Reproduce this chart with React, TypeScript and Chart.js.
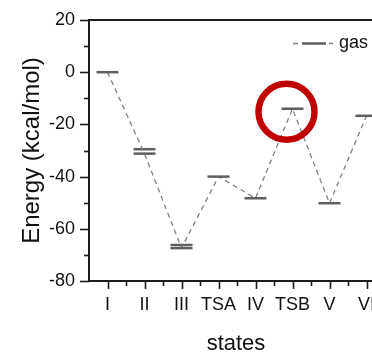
import React, { useEffect, useRef } from 'react';
import { Chart, registerables } from 'chart.js';

Chart.register(...registerables);

// ---- data ----
const STATES = ['I', 'II', 'III', 'TSA', 'IV', 'TSB', 'V', 'VI'];
const GAS = [0, -31.2, -67.4, -40, -48.3, -14, -50.2, -16.7];
const GAS_UPPER: (number | null)[] = [null, -29.5, -66.2, null, null, null, null, null];
const Y_TICK_VALUES = [20, 10, 0, -10, -20, -30, -40, -50, -60, -70, -80];
const SERIES_LABEL = 'gas';
const HIGHLIGHT_STATE = 'TSB';

const FONT = '"Liberation Sans", Arial, Helvetica, sans-serif';
const AXIS_COLOR = '#1c1c1c';
const TEXT_COLOR = '#111111';
const LEVEL_COLOR = '#5e5e5e';
const DASH_COLOR = '#808080';
const RING_COLOR = '#c00000';

const CANVAS_W = 400;
const CANVAS_H = 353;
const PLOT_LEFT = 89;
const PLOT_RIGHT = 383;
const UNIT_PX = 37;

const zeroPadding = (s: any) => {
  s.paddingLeft = 0;
  s.paddingRight = 0;
  s.paddingTop = 0;
  s.paddingBottom = 0;
};

const decorPlugin = {
  id: 'decor',
  afterDraw(chart: any) {
    const { ctx, chartArea, scales } = chart;
    const xs = scales.x;
    const ys = scales.y;
    ctx.save();
    ctx.strokeStyle = AXIS_COLOR;
    // top frame
    ctx.lineWidth = 2;
    ctx.beginPath();
    ctx.moveTo(chartArea.left - 1, chartArea.top);
    ctx.lineTo(chartArea.right, chartArea.top);
    ctx.stroke();
    // y ticks (major/minor)
    ctx.lineWidth = 1.6;
    for (const t of ys.ticks) {
      const p = Math.round(ys.getPixelForValue(t.value)) + 0.5;
      const len = t.value % 20 === 0 ? 9 : 5;
      ctx.beginPath();
      ctx.moveTo(chartArea.left - len, p);
      ctx.lineTo(chartArea.left, p);
      ctx.stroke();
    }
    // x ticks (major/minor)
    for (const t of xs.ticks) {
      const p = Math.round(xs.getPixelForValue(t.value)) + 0.5;
      const len = Number.isInteger(t.value) ? 8 : 5;
      ctx.beginPath();
      ctx.moveTo(p, chartArea.bottom);
      ctx.lineTo(p, chartArea.bottom + len);
      ctx.stroke();
    }
    // highlight ring around TSB
    const hi = STATES.indexOf(HIGHLIGHT_STATE);
    const cx = xs.getPixelForValue(hi + 1) - 6;
    const cy = ys.getPixelForValue(GAS[hi]) + 3;
    ctx.strokeStyle = RING_COLOR;
    ctx.lineWidth = 6.5;
    ctx.beginPath();
    ctx.arc(cx, cy, 28, 0, Math.PI * 2);
    ctx.stroke();
    // legend
    const ly = 43.5;
    ctx.strokeStyle = DASH_COLOR;
    ctx.lineWidth = 1.3;
    ctx.beginPath();
    ctx.moveTo(293, ly); ctx.lineTo(298, ly);
    ctx.moveTo(329, ly); ctx.lineTo(333, ly);
    ctx.stroke();
    ctx.strokeStyle = LEVEL_COLOR;
    ctx.lineWidth = 2.5;
    ctx.beginPath();
    ctx.moveTo(302, ly); ctx.lineTo(326, ly);
    ctx.stroke();
    ctx.fillStyle = TEXT_COLOR;
    ctx.font = `18px ${FONT}`;
    ctx.textBaseline = 'middle';
    ctx.textAlign = 'left';
    ctx.fillText(SERIES_LABEL, 339, ly);
    ctx.restore();
  },
};

export default function App() {
  const ref = useRef<HTMLCanvasElement | null>(null);

  useEffect(() => {
    const canvas = ref.current;
    if (!canvas) return;
    const xMax = 0.5 + (PLOT_RIGHT - PLOT_LEFT) / UNIT_PX;
    const levelPoint = {
      pointStyle: 'line',
      pointRadius: 11,
      pointHoverRadius: 11,
      pointBorderWidth: 2.5,
      pointHoverBorderWidth: 2.5,
      pointBorderColor: LEVEL_COLOR,
      pointBackgroundColor: LEVEL_COLOR,
    };
    const chart = new Chart(canvas, {
      type: 'line',
      data: {
        datasets: [
          {
            label: SERIES_LABEL,
            data: GAS.map((y, i) => ({ x: i + 1, y })),
            borderColor: DASH_COLOR,
            borderWidth: 1.3,
            borderDash: [5, 4],
            fill: false,
            tension: 0,
            ...levelPoint,
          } as any,
          {
            label: SERIES_LABEL + ' upper',
            data: GAS_UPPER.map((y, i) => ({ x: i + 1, y })).filter((p) => p.y !== null),
            showLine: false,
            ...levelPoint,
          } as any,
        ],
      },
      options: {
        responsive: false,
        animation: false,
        devicePixelRatio: 1,
        events: [],
        layout: { padding: { left: 0, top: 20, right: CANVAS_W - PLOT_RIGHT, bottom: 0 } },
        plugins: { legend: { display: false }, tooltip: { enabled: false } },
        scales: {
          x: {
            type: 'linear',
            min: 0.5,
            max: xMax,
            afterBuildTicks: (s: any) => {
              const t = [];
              for (let v = 1; v <= STATES.length; v += 0.5) t.push({ value: v });
              s.ticks = t;
            },
            afterFit: (s: any) => {
              s.height = 72;
              zeroPadding(s);
            },
            grid: { display: true, drawOnChartArea: false, drawTicks: true, tickLength: 8, tickColor: 'rgba(0,0,0,0)' },
            border: { display: true, color: AXIS_COLOR, width: 2 },
            ticks: {
              autoSkip: false,
              maxRotation: 0,
              minRotation: 0,
              padding: 5,
              color: TEXT_COLOR,
              font: { family: FONT, size: 18 },
              callback: (v: any) => (Number.isInteger(v) ? STATES[v - 1] ?? '' : ''),
            },
            title: {
              display: true,
              text: 'states',
              color: TEXT_COLOR,
              font: { family: FONT, size: 22 },
              padding: { top: 0, bottom: -4 },
            },
          },
          y: {
            type: 'linear',
            min: -80,
            max: 20,
            afterBuildTicks: (s: any) => {
              s.ticks = Y_TICK_VALUES.map((v) => ({ value: v }));
            },
            afterFit: (s: any) => {
              s.width = PLOT_LEFT;
              zeroPadding(s);
            },
            grid: { display: true, drawOnChartArea: false, drawTicks: true, tickLength: 9, tickColor: 'rgba(0,0,0,0)' },
            border: { display: true, color: AXIS_COLOR, width: 2 },
            ticks: {
              autoSkip: false,
              padding: 5,
              color: TEXT_COLOR,
              font: { family: FONT, size: 18 },
              callback: (v: any) => (v % 20 === 0 ? String(v) : ''),
            },
            title: {
              display: true,
              text: 'Energy (kcal/mol)',
              color: TEXT_COLOR,
              font: { family: FONT, size: 24 },
              padding: { top: 18, bottom: 0 },
            },
          },
        },
      } as any,
      plugins: [decorPlugin],
    });
    return () => chart.destroy();
  }, []);

  return (
    <div
      style={{
        position: 'fixed',
        left: 0,
        top: 0,
        width: 372,
        height: 353,
        overflow: 'hidden',
        background: '#ffffff',
      }}
    >
      <canvas ref={ref} width={CANVAS_W} height={CANVAS_H} style={{ display: 'block', width: CANVAS_W, height: CANVAS_H }} />
    </div>
  );
}
